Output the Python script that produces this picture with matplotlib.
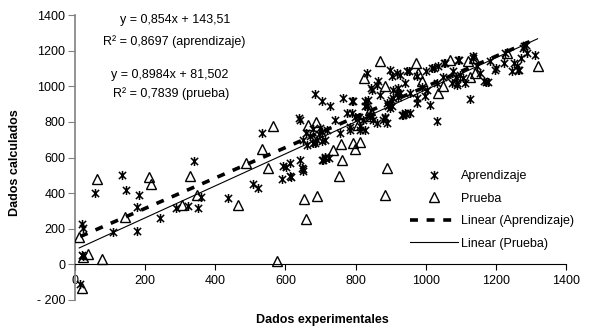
import matplotlib
matplotlib.use("Agg")
import matplotlib.pyplot as plt
from matplotlib.path import Path
import numpy as np

# Aprendizaje (training) points: experimental vs calculated
apr_x = [15, 19, 22, 20, 24, 57, 109, 133, 145, 176, 178, 182, 242, 288, 323, 339, 352, 358,
         437, 508, 523, 532, 589, 594, 602, 613, 613, 615, 640, 642, 642, 646, 649, 651, 650,
         660, 661, 670, 680, 680, 684, 684, 690, 695, 698, 703, 703, 704, 705, 708, 712, 713,
         713, 718, 724, 727, 741, 756, 763, 776, 783, 784, 789, 791, 792, 798, 810, 813, 813,
         822, 826, 827, 827, 832, 832, 836, 841, 842, 845, 846, 851, 860, 860, 865, 870, 879,
         883, 884, 889, 889, 892, 898, 898, 901, 903, 903, 908, 908, 917, 918, 920, 922, 927,
         927, 931, 936, 940, 941, 944, 948, 951, 955, 956, 974, 975, 975, 990, 999, 1000, 1004,
         1012, 1017, 1023, 1031, 1033, 1036, 1049, 1052, 1055, 1074, 1079, 1086, 1088, 1088,
         1093, 1095, 1098, 1107, 1112, 1126, 1135, 1136, 1146, 1155, 1166, 1173, 1179, 1183,
         1198, 1200, 1223, 1226, 1245, 1252, 1259, 1262, 1266, 1271, 1278, 1281, 1287, 1288,
         1312]
apr_y = [-110, 224, 205, 55, 47, 398, 181, 500, 420, 187, 321, 392, 261, 317, 327, 578, 314, 379,
         373, 453, 429, 737, 480, 550, 547, 569, 495, 491, 821, 588, 812, 541, 523, 538, 700,
         740, 672, 720, 681, 760, 957, 683, 700, 730, 765, 915, 588, 690, 745, 588, 700, 597,
         604, 756, 597, 887, 812, 737, 933, 849, 756, 774, 849, 915, 915, 830, 830, 756, 775,
         812, 889, 756, 915, 887, 1073, 924, 840, 830, 990, 980, 812, 793, 1008, 1027, 952, 812,
         826, 821, 793, 905, 889, 877, 1092, 924, 887, 1055, 933, 980, 1073, 961, 942, 990, 962,
         1064, 840, 840, 851, 1018, 844, 1083, 1083, 849, 962, 905, 933, 1055, 998, 943, 1083, 980,
         896, 1102, 1102, 1017, 806, 1111, 1054, 1130, 1130, 1017, 1083, 1054, 1008, 1017,
         1150, 1145, 1064, 1045, 1018, 929, 1160, 1168, 1111, 1073, 1027, 1023, 1023, 1140,
         1092, 1101, 1130, 1186, 1083, 1130, 1112, 1093, 1092, 1158, 1214, 1224, 1233, 1186,
         1176]

# Prueba (test) points
pru_x = [20, 12, 24, 38, 64, 78, 143, 211, 217, 304, 328, 347, 466, 488, 534, 549, 564, 575,
         653, 659, 665, 687, 691, 737, 754, 758, 760, 794, 797, 808, 813, 824, 841, 841, 870,
         884, 884, 889, 972, 977, 988, 1036, 1050, 1070, 1120, 1126, 1138, 1141, 1233, 1319]
pru_y = [-135, 153, 43, 56, 480, 28, 265, 491, 453, 332, 498, 388, 336, 569, 648, 541, 778, 19,
         368, 252, 784, 802, 383, 644, 498, 677, 588, 681, 650, 784, 685, 1047, 868, 833, 1140,
         1000, 392, 541, 1131, 1074, 1028, 962, 1000, 1145, 1140, 1054, 1158, 1073, 1186, 1112]

# trendline coefficients as printed on the chart
apr_fit = (0.854, 143.51)
pru_fit = (0.8984, 81.502)

x_ticks = [0, 200, 400, 600, 800, 1000, 1200, 1400]
y_ticks = [-200, 0, 200, 400, 600, 800, 1000, 1200, 1400]

plt.rcParams["font.family"] = ["Liberation Sans", "DejaVu Sans"]
plt.rcParams["font.size"] = 9
plt.rcParams["axes.unicode_minus"] = False

W, H = 593, 327
fig = plt.figure(figsize=(W / 100, H / 100), dpi=100)
ax = fig.add_axes([75 / W, 1 - 300 / H, (566 - 75) / W, (300 - 15) / H])

# excel-style star: an X with a vertical bar through it
star = Path([(-0.8, -0.8), (0.8, 0.8), (-0.8, 0.8), (0.8, -0.8), (0, -1), (0, 1)],
            [Path.MOVETO, Path.LINETO, Path.MOVETO, Path.LINETO, Path.MOVETO, Path.LINETO])

ax.plot(apr_x, apr_y, linestyle="none", marker=star, ms=6.5, mew=1.1,
        color="black", label="Aprendizaje", zorder=3)
ax.plot(pru_x, pru_y, linestyle="none", marker="^", ms=6.5, mew=1.0,
        mfc="none", mec="black", label="Prueba", zorder=3)

xa = np.linspace(min(apr_x), max(apr_x), 50)
ax.plot(xa, apr_fit[0] * xa + apr_fit[1], color="black", lw=2.6,
        dashes=(2.2, 2.4), label="Linear (Aprendizaje)", zorder=2)
xp = np.linspace(min(pru_x), max(pru_x), 50)
ax.plot(xp, pru_fit[0] * xp + pru_fit[1], color="black", lw=0.8,
        label="Linear (Prueba)", zorder=2)

ax.set_xlim(0, 1400)
ax.set_ylim(-200, 1400)
ax.set_xticks(x_ticks)
ax.set_yticks(y_ticks)
ax.set_yticklabels([str(v).replace("-", "- ") for v in y_ticks])

ax.spines["top"].set_visible(False)
ax.spines["right"].set_visible(False)
ax.spines["bottom"].set_position(("data", 0))
ax.spines["bottom"].set_color("black")
ax.spines["left"].set_color("#808080")
ax.spines["left"].set_linewidth(1.2)
ax.tick_params(axis="x", direction="out", length=4, width=0.8, pad=4, labelsize=9)
ax.tick_params(axis="y", direction="out", length=5, width=0.8, color="#808080",
               pad=2, labelsize=9)

fig.text(322 / W, 1 - 320 / H, "Dados experimentales", ha="center", va="center",
         fontsize=9, fontweight="bold")
fig.text(15 / W, 1 - 163 / H, "Dados calculados", ha="center", va="center",
         rotation=90, fontsize=9, fontweight="bold")

ax.text(175 / W, 1 - 20 / H, "y = 0,854x + 143,51", transform=fig.transFigure,
        ha="center", va="center", fontsize=9)
ax.text(174 / W, 1 - 42 / H, "R² = 0,8697 (aprendizaje)", transform=fig.transFigure,
        ha="center", va="center", fontsize=9)
ax.text(170 / W, 1 - 75 / H, "y = 0,8984x + 81,502", transform=fig.transFigure,
        ha="center", va="center", fontsize=9)
ax.text(171 / W, 1 - 94 / H, "R² = 0,7839 (prueba)", transform=fig.transFigure,
        ha="center", va="center", fontsize=9)

ax.legend(loc="upper left", bbox_to_anchor=(410 / W, 1 - 170 / H),
          bbox_transform=fig.transFigure, frameon=False, fontsize=9,
          handlelength=3.8, handletextpad=0.3, labelspacing=0.85,
          borderpad=0, borderaxespad=0, numpoints=1)

fig.savefig("out.png", dpi=100)
